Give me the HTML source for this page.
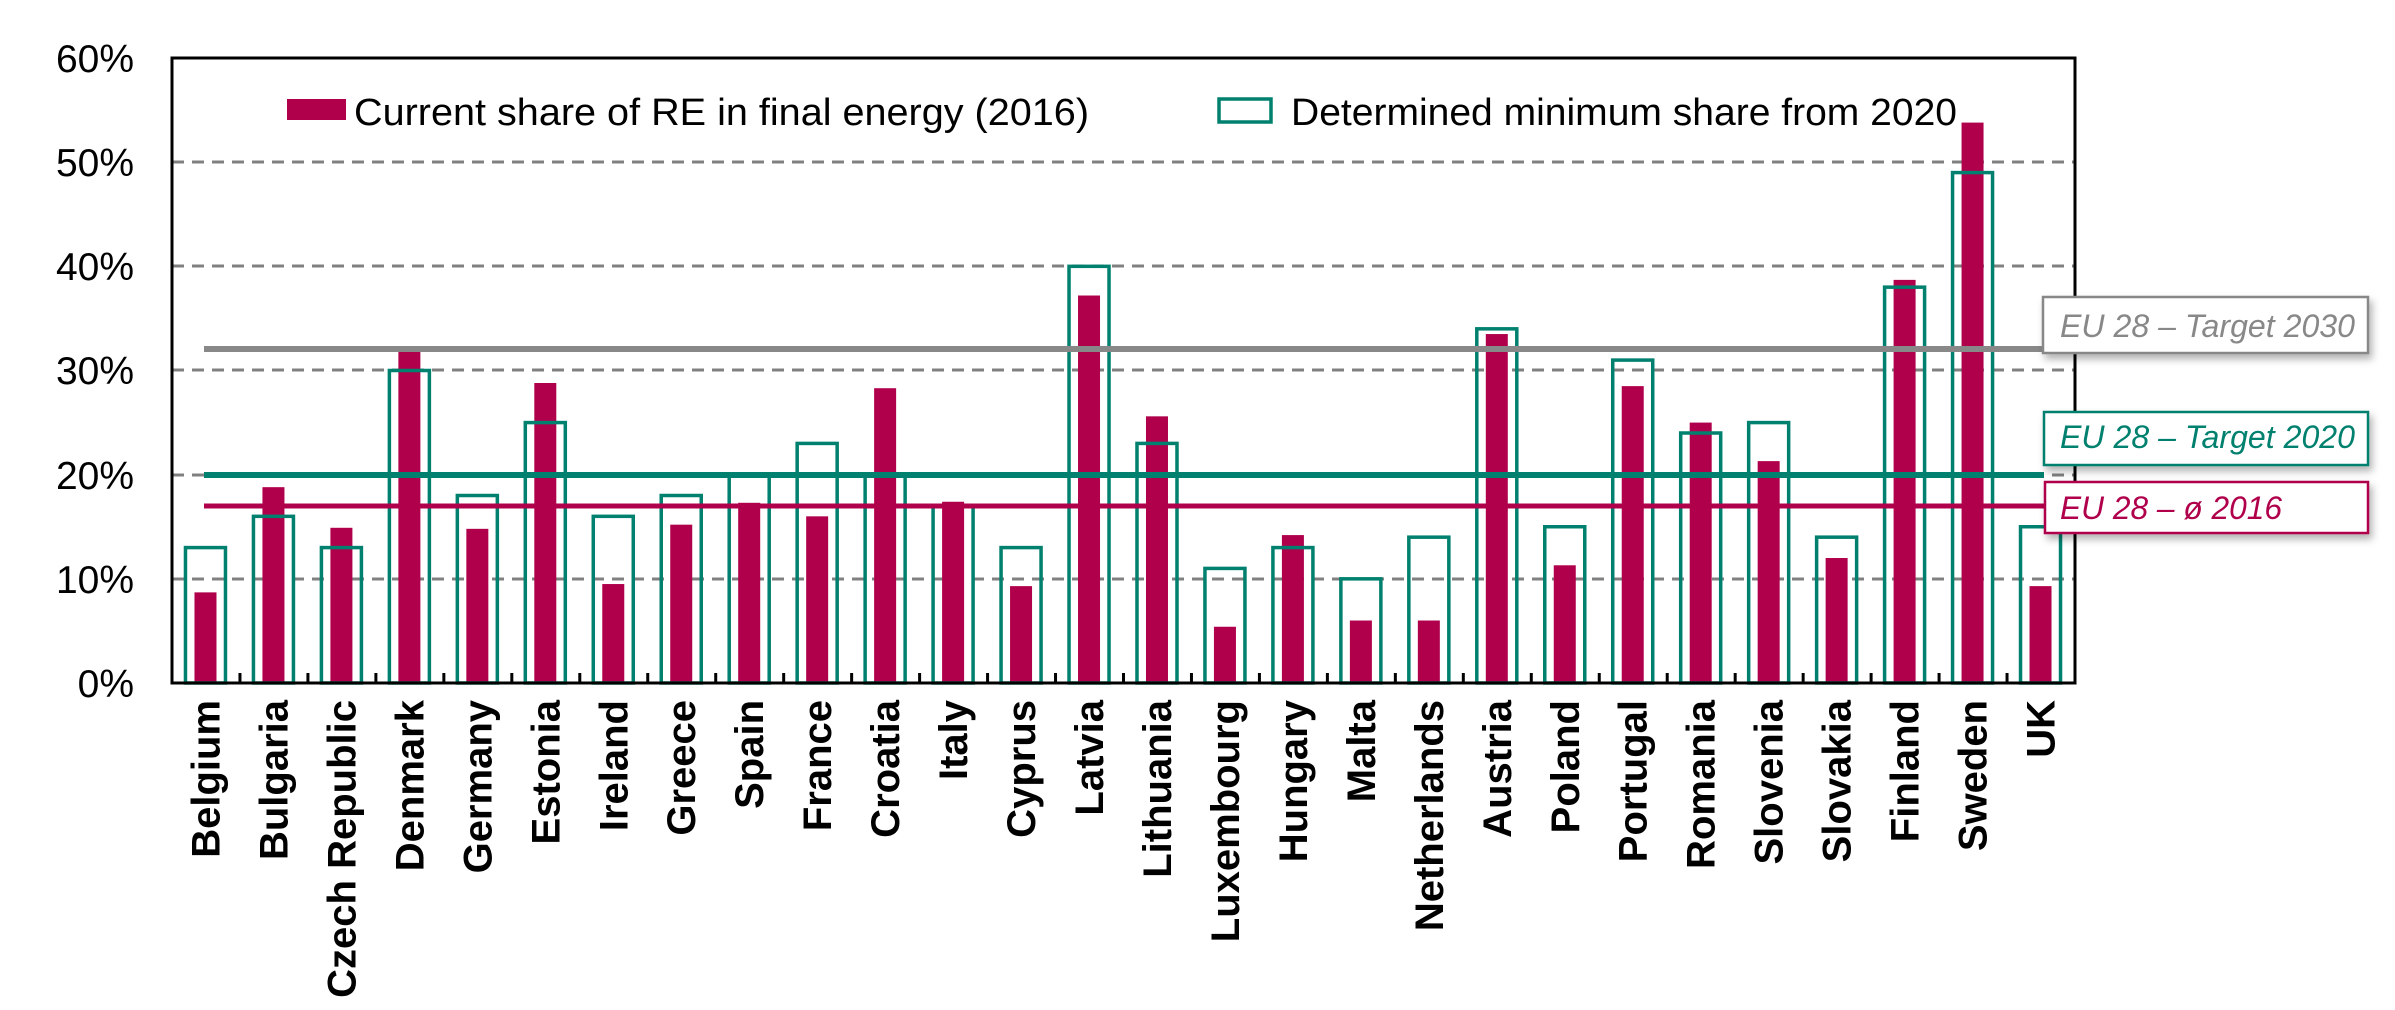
<!DOCTYPE html>
<html><head><meta charset="utf-8"><style>
html,body{margin:0;padding:0;background:#fff;}
svg{display:block;}
</style></head><body>
<svg width="2395" height="1010" viewBox="0 0 2395 1010" xmlns="http://www.w3.org/2000/svg" font-family="Liberation Sans, sans-serif">
<defs>
<filter id="sh" x="-5%" y="-20%" width="115%" height="160%"><feDropShadow dx="3" dy="5" stdDeviation="4" flood-color="#000" flood-opacity="0.3"/></filter>
</defs>
<g stroke="#808080" stroke-width="3" stroke-dasharray="12,8">
<line x1="172" y1="579" x2="2075" y2="579"/>
<line x1="172" y1="475" x2="2075" y2="475"/>
<line x1="172" y1="370" x2="2075" y2="370"/>
<line x1="172" y1="266" x2="2075" y2="266"/>
<line x1="172" y1="162" x2="2075" y2="162"/>
</g>
<g font-size="39" text-anchor="end" fill="#000">
<text x="134" y="697">0%</text>
<text x="134" y="593">10%</text>
<text x="134" y="489">20%</text>
<text x="134" y="384">30%</text>
<text x="134" y="280">40%</text>
<text x="134" y="176">50%</text>
<text x="134" y="72">60%</text>
</g>
<g id="bars"></g>
<rect x="172" y="58" width="1903" height="625" fill="none" stroke="#000" stroke-width="3"/>
<g id="ticks" stroke="#000" stroke-width="3"></g>
<rect x="287" y="99" width="59" height="21" fill="#b0004b"/>
<text x="354" y="125" font-size="38" textLength="735" lengthAdjust="spacingAndGlyphs">Current share of RE in final energy (2016)</text>
<rect x="1219" y="99" width="52" height="23" fill="none" stroke="#00806e" stroke-width="3.5"/>
<text x="1291" y="125" font-size="38" textLength="666" lengthAdjust="spacingAndGlyphs">Determined minimum share from 2020</text>
<line x1="204" y1="349" x2="2044" y2="349" stroke="#888" stroke-width="6"/>
<line x1="204" y1="475" x2="2044" y2="475" stroke="#00806e" stroke-width="6"/>
<line x1="204" y1="506" x2="2046" y2="506" stroke="#b0004b" stroke-width="5"/>
<g font-size="32" font-style="italic">
<rect x="2043" y="297" width="325" height="56" fill="#fff" stroke="#888" stroke-width="2.5" filter="url(#sh)"/>
<text x="2060" y="337" fill="#888" textLength="295" lengthAdjust="spacingAndGlyphs">EU 28 – Target 2030</text>
<rect x="2044" y="412" width="324" height="53" fill="#fff" stroke="#00806e" stroke-width="2.5" filter="url(#sh)"/>
<text x="2060" y="448" fill="#00806e" textLength="295" lengthAdjust="spacingAndGlyphs">EU 28 – Target 2020</text>
<rect x="2045" y="482" width="323" height="51" fill="#fff" stroke="#b0004b" stroke-width="2.5" filter="url(#sh)"/>
<text x="2060" y="519" fill="#b0004b" textLength="222" lengthAdjust="spacingAndGlyphs">EU 28 – ø 2016</text>
</g>
<g id="labels" font-size="40" font-weight="bold"></g>
<script>
var d=[["Belgium",8.7,13],["Bulgaria",18.8,16],["Czech Republic",14.9,13],["Denmark",32.2,30],["Germany",14.8,18],["Estonia",28.8,25],["Ireland",9.5,16],["Greece",15.2,18],["Spain",17.3,20],["France",16.0,23],["Croatia",28.3,20],["Italy",17.4,17],["Cyprus",9.3,13],["Latvia",37.2,40],["Lithuania",25.6,23],["Luxembourg",5.4,11],["Hungary",14.2,13],["Malta",6.0,10],["Netherlands",6.0,14],["Austria",33.5,34],["Poland",11.3,15],["Portugal",28.5,31],["Romania",25.0,24],["Slovenia",21.3,25],["Slovakia",12.0,14],["Finland",38.7,38],["Sweden",53.8,49],["UK",9.3,15]];
var ns="http://www.w3.org/2000/svg",B=document.getElementById("bars"),T=document.getElementById("ticks"),L=document.getElementById("labels");
var w=1903/28,y0=683,k=625/60;
function el(p,t,a){var e=document.createElementNS(ns,t);for(var i in a)e.setAttribute(i,a[i]);p.appendChild(e);return e;}
d.forEach(function(r,i){var c=172+w*(i+0.5)-0.5;
var h=r[1]*k;el(B,"rect",{x:c-11,y:y0-h,width:22,height:h,fill:"#b0004b"});
var h2=r[2]*k;el(B,"rect",{x:c-20,y:y0-h2,width:40,height:h2,fill:"none",stroke:"#00806e","stroke-width":3.5});
if(i>0)el(T,"line",{x1:172+w*i,y1:y0,x2:172+w*i,y2:y0-10});
var t=el(L,"text",{transform:"translate("+(c+14)+",700) rotate(-90)","text-anchor":"end"});t.textContent=r[0];});
</script>
</svg>
</body></html>
